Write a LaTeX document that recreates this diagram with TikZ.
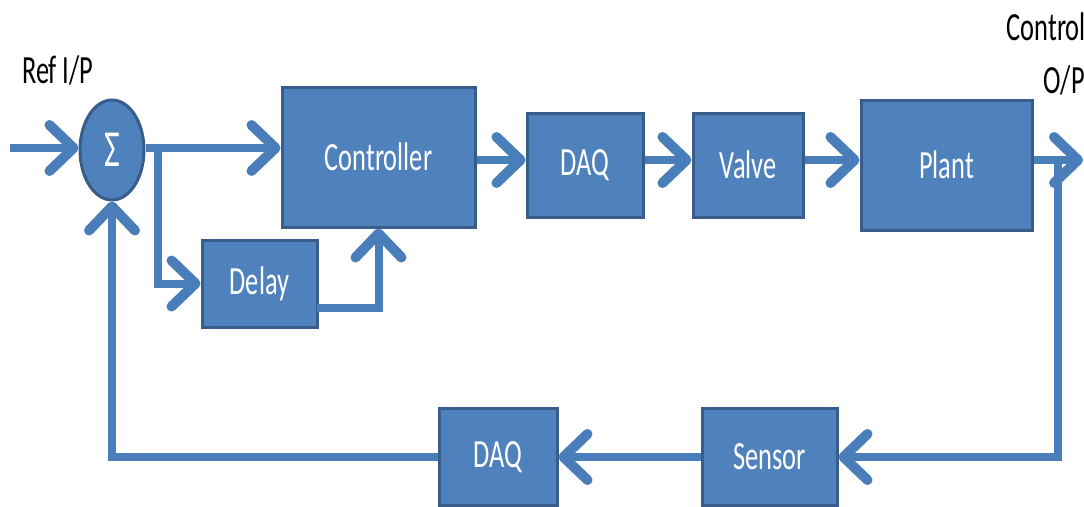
\documentclass[tikz,border=0pt]{standalone}
\usepackage{fontspec}
\setmainfont{Carlito}[FakeStretch=0.66]
\usetikzlibrary{arrows.meta,shapes.geometric}
\definecolor{boxfill}{HTML}{4F81BD}
\definecolor{boxline}{HTML}{385D8A}
\definecolor{wire}{HTML}{4A7EBB}
\tikzset{
  blk/.style={rectangle, fill=boxfill, draw=boxline, line width=3pt, inner sep=0pt,
    text=white, font=\fontsize{40}{48}\selectfont},
  sumnode/.style={ellipse, fill=boxfill, draw=boxline, line width=3pt, inner sep=0pt,
    minimum width=64pt, minimum height=100pt, text=white, font=\fontsize{52}{60}\selectfont},
  lbl/.style={inner sep=0pt, text=black, font=\fontsize{40}{48}\selectfont},
  wireline/.style={draw=wire, line width=8pt},
  arr/.style={wireline, -{Straight Barb[length=24pt,width=46pt,line width=10pt,round]}}
}
\begin{document}
\begin{tikzpicture}[x=1pt,y=-1pt]
\useasboundingbox (0,0) rectangle (1084,506);
% nodes
\node[sumnode] (sum) at (112,150) {\raisebox{-5pt}{Σ}};
\node[blk, minimum width=193pt, minimum height=140pt] (ctrl) at (378.5,157) {\raisebox{-3pt}{Controller}};
\node[blk, minimum width=115pt, minimum height=87pt] (delay) at (259.5,283.5) {\raisebox{-3pt}{Delay}};
\node[blk, minimum width=116pt, minimum height=104pt] (daqa) at (585,165) {\raisebox{-3pt}{DAQ}};
\node[blk, minimum width=110pt, minimum height=104pt] (valve) at (748,165) {\raisebox{-3pt}{Valve}};
\node[blk, minimum width=171pt, minimum height=130pt] (plant) at (946.5,165) {\raisebox{-3pt}{Plant}};
\node[blk, minimum width=135pt, minimum height=97pt] (sensor) at (769.5,457) {\raisebox{-3pt}{Sensor}};
\node[blk, minimum width=118pt, minimum height=97pt] (daqb) at (498,457) {\raisebox{-3pt}{DAQ}};
% labels
\node[lbl, anchor=base west] (ref) at (22,83) {Ref I/P};
\node[lbl, anchor=base east] (ctl) at (1086,40) {Control};
\node[lbl, anchor=base east] (op) at (1085,93) {O/P};
% coordinates
\coordinate (in) at (10,148);
\coordinate (br) at (158,148);
\coordinate (dl) at (317,308);
\coordinate (lvl) at (0,160);
\coordinate (ob) at (1058,160);
\coordinate (out) at (1083,160);
% connectors
\draw[arr] (in) -- (in -| sum.west);
\draw[arr] (sum.east |- in) -- (ctrl.west |- in);
\draw[arr] (br) |- (delay.west);
\draw[arr] (dl) -| (ctrl.south);
\draw[arr] (ctrl.east |- lvl) -- (daqa.west |- lvl);
\draw[arr] (daqa.east |- lvl) -- (valve.west |- lvl);
\draw[arr] (valve.east |- lvl) -- (plant.west |- lvl);
\draw[arr] (plant.east |- lvl) -- (out);
\draw[arr] (ob) |- (sensor.east);
\draw[arr] (sensor.west) -- (daqb.east);
\draw[arr] (daqb.west) -| (sum.south);
\end{tikzpicture}
\end{document}
